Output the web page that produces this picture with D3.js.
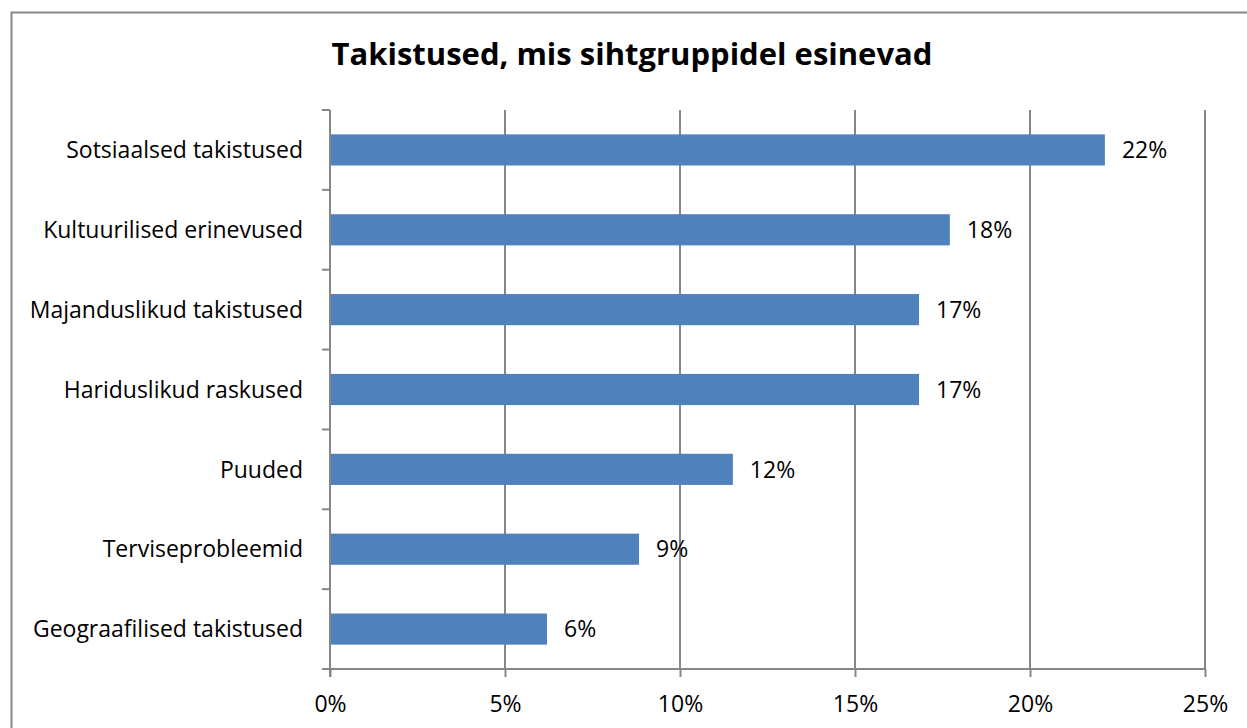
<!DOCTYPE html>
<html>
<head>
<meta charset="utf-8">
<script src="https://cdn.jsdelivr.net/npm/d3@7"></script>
<style>
  body { margin: 0; background: #fff; }
  text { font-family: "Open Sans", sans-serif; fill: #000; }
</style>
</head>
<body>
<script>
// chart data
var categories = ["Sotsiaalsed takistused", "Kultuurilised erinevused", "Majanduslikud takistused",
  "Hariduslikud raskused", "Puuded", "Terviseprobleemid", "Geograafilised takistused"];
var values = [22.14, 17.71, 16.83, 16.83, 11.51, 8.83, 6.2];
var valueLabels = ["22%", "18%", "17%", "17%", "12%", "9%", "6%"];
var xTicks = [0, 5, 10, 15, 20, 25];
var title = "Takistused, mis sihtgruppidel esinevad";

var W = 1247, H = 728;
var margin = {top: 110, left: 330, right: 42, bottom: 59},
    width = W - margin.left - margin.right,
    height = H - margin.top - margin.bottom;

var svg = d3.select("body").append("svg")
    .attr("width", W)
    .attr("height", H);

// outer chart border
svg.append("rect")
    .attr("x", 11.5).attr("y", 12.5)
    .attr("width", W).attr("height", H)
    .attr("fill", "none")
    .attr("stroke", "#868686")
    .attr("stroke-width", 2);

svg.append("text")
    .attr("x", 632).attr("y", 65)
    .attr("text-anchor", "middle")
    .style("font-size", "31px")
    .style("font-weight", "bold")
    .text(title);

var x = d3.scaleLinear().domain([0, 25]).range([0, width]);
var y = d3.scaleBand().domain(categories).range([0, height]).paddingInner(0.61).paddingOuter(0.305);
var yTicks = d3.scaleBand().domain(categories).range([0, height]);

var main = svg.append("g")
    .attr("transform", "translate(" + margin.left + "," + margin.top + ")");

// vertical gridlines
main.selectAll("line.grid")
    .data(xTicks.slice(1))
    .enter().append("line")
    .attr("class", "grid")
    .attr("x1", function(d) { return x(d); })
    .attr("x2", function(d) { return x(d); })
    .attr("y1", 0).attr("y2", height)
    .attr("stroke", "#868686")
    .attr("stroke-width", 2);

// bars
main.selectAll("rect.bar")
    .data(values)
    .enter().append("rect")
    .attr("class", "bar")
    .attr("x", 0)
    .attr("y", function(d, i) { return y(categories[i]); })
    .attr("width", function(d) { return x(d); })
    .attr("height", y.bandwidth())
    .attr("fill", "#4F81BD");

// value labels
main.selectAll("text.val")
    .data(values)
    .enter().append("text")
    .attr("class", "val")
    .attr("x", function(d) { return x(d) + 17; })
    .attr("y", function(d, i) { return y(categories[i]) + y.bandwidth() / 2; })
    .attr("dy", "0.36em")
    .style("font-size", "23px")
    .text(function(d, i) { return valueLabels[i]; });

// y axis: line, category separator ticks, labels
main.append("line")
    .attr("x1", 0).attr("x2", 0)
    .attr("y1", 0).attr("y2", height + 8)
    .attr("stroke", "#868686").attr("stroke-width", 2);

var sep = categories.map(function(c) { return yTicks(c); }).concat([height]);
main.selectAll("line.ytick")
    .data(sep)
    .enter().append("line")
    .attr("class", "ytick")
    .attr("x1", -8).attr("x2", 0)
    .attr("y1", function(d) { return d; })
    .attr("y2", function(d) { return d; })
    .attr("stroke", "#868686").attr("stroke-width", 2);

main.selectAll("text.cat")
    .data(categories)
    .enter().append("text")
    .attr("class", "cat")
    .attr("x", -27)
    .attr("y", function(d) { return y(d) + y.bandwidth() / 2; })
    .attr("dy", "0.36em")
    .attr("text-anchor", "end")
    .style("font-size", "23px")
    .text(function(d) { return d; });

// x axis
var xAxis = d3.axisBottom(x)
    .tickValues(xTicks)
    .tickSize(8)
    .tickFormat(function(d) { return d + "%"; });

var gx = main.append("g")
    .attr("transform", "translate(0," + height + ")")
    .call(xAxis);
gx.select(".domain").remove();
gx.selectAll("line").attr("stroke", "#868686").attr("stroke-width", 2);
gx.selectAll("text")
    .attr("y", 27)
    .style("font-size", "23px")
    .style("font-family", "'Open Sans', sans-serif")
    .attr("fill", "#000");

main.append("line")
    .attr("x1", -8).attr("x2", width)
    .attr("y1", height).attr("y2", height)
    .attr("stroke", "#868686").attr("stroke-width", 2);
</script>
</body>
</html>
